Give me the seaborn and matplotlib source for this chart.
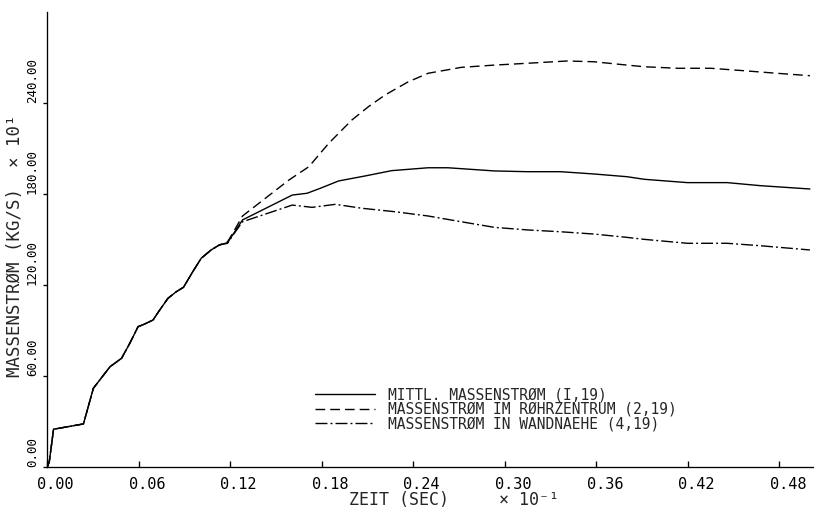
import matplotlib
matplotlib.use("Agg")
import matplotlib.pyplot as plt
import seaborn as sns
from matplotlib.transforms import ScaledTranslation

sns.set_style("ticks")
plt.rcParams["font.family"] = ["DejaVu Sans Mono", "DejaVu Sans"]

# ---------------- data (time in SEC x 10^-1, mass flow in KG/S x 10^1) -------------
t_mittel = [0.0, 0.0013, 0.0041, 0.0237, 0.0302, 0.0411, 0.0487, 0.0541, 0.0595, 0.0639,
            0.0693, 0.0737, 0.0791, 0.0846, 0.0893, 0.0954, 0.1009, 0.1074, 0.1128, 0.1182,
            0.1215, 0.128, 0.1606, 0.1704, 0.1791, 0.191, 0.2084, 0.2258, 0.2497, 0.2627,
            0.2932, 0.3149, 0.3366, 0.3584, 0.3801, 0.3914, 0.4197, 0.4458, 0.4675, 0.5]
m_mittel = [0.0, 3.5, 24.9, 28.4, 51.9, 66.1, 71.7, 81.6, 92.5, 94.3,
            96.9, 103.5, 111.2, 115.6, 118.5, 128.8, 137.6, 143.1, 146.4, 147.9,
            153.0, 162.9, 179.3, 180.5, 183.8, 188.6, 191.9, 195.4, 197.3, 197.3,
            195.2, 194.7, 194.7, 193.2, 191.4, 189.7, 187.5, 187.5, 185.5, 183.3]

t_zentrum = [0.0, 0.0013, 0.0041, 0.0237, 0.0302, 0.0411, 0.0487, 0.0541, 0.0595, 0.0639,
             0.0693, 0.0737, 0.0791, 0.0846, 0.0893, 0.0954, 0.1009, 0.1074, 0.1128, 0.1182,
             0.1215, 0.128, 0.1584, 0.1715, 0.1845, 0.1997, 0.2106, 0.2215, 0.2367, 0.2497,
             0.2714, 0.2932, 0.3149, 0.341, 0.3584, 0.3801, 0.3914, 0.4132, 0.4349, 0.4566,
             0.4783, 0.5]
m_zentrum = [0.0, 3.5, 24.9, 28.4, 51.9, 66.1, 71.7, 81.6, 92.5, 94.3,
             96.9, 103.5, 111.2, 115.6, 118.5, 128.8, 137.6, 143.1, 146.4, 148.5,
             154.0, 165.5, 189.2, 198.0, 213.4, 228.8, 237.6, 245.3, 254.0, 259.6,
             263.5, 265.0, 266.2, 267.7, 267.2, 265.0, 263.9, 262.9, 262.9, 261.3,
             259.6, 258.0]

t_wand = [0.0, 0.0013, 0.0041, 0.0237, 0.0302, 0.0411, 0.0487, 0.0541, 0.0595, 0.0639,
          0.0693, 0.0737, 0.0791, 0.0846, 0.0893, 0.0954, 0.1009, 0.1074, 0.1128, 0.1182,
          0.1215, 0.128, 0.1606, 0.1736, 0.1889, 0.2062, 0.228, 0.2497, 0.2714, 0.2932,
          0.3149, 0.3366, 0.3584, 0.3801, 0.3914, 0.4197, 0.4458, 0.4675, 0.5]
m_wand = [0.0, 3.5, 24.9, 28.4, 51.9, 66.1, 71.7, 81.6, 92.5, 94.3,
          96.9, 103.5, 111.2, 115.6, 118.5, 128.8, 137.6, 143.1, 146.4, 147.5,
          152.5, 161.7, 172.7, 171.2, 173.2, 170.6, 168.3, 165.5, 161.7, 158.0,
          156.3, 155.1, 153.6, 151.4, 150.1, 147.5, 147.5, 145.9, 143.1]

series_labels = ["MITTL. MASSENSTRØM (I,19)",
                 "MASSENSTRØM IM RØHRZENTRUM (2,19)",
                 "MASSENSTRØM IN WANDNAEHE (4,19)"]

x_ticks = [0.0, 0.06, 0.12, 0.18, 0.24, 0.30, 0.36, 0.42, 0.48]
x_tick_labels = ["0.00", "0.06", "0.12", "0.18", "0.24", "0.30", "0.36", "0.42", "0.48"]
y_ticks = [0, 60, 120, 180, 240]
y_tick_labels = ["0.00", "60.00", "120.00", "180.00", "240.00"]

x_title = "ZEIT (SEC)     × 10⁻¹"
y_title = "MASSENSTRØM (KG/S)  × 10¹"

# ---------------- figure ----------------
W, H = 814, 511
fig = plt.figure(figsize=(W / 100, H / 100), dpi=100)
ax = fig.add_axes([47.3 / W, 1 - 467 / H, 1 - 47.3 / W, (467 - 12) / H])

LW = 1.0
styles = ["-", (0, (7, 3.6)), (0, (8.6, 2.2, 1.4, 2.2))]
for (tx, my), lab, ls in zip([(t_mittel, m_mittel), (t_zentrum, m_zentrum), (t_wand, m_wand)],
                             series_labels, styles):
    sns.lineplot(x=tx, y=my, ax=ax, color="black", lw=LW, linestyle=ls,
                 label=lab, estimator=None, sort=False)

ax.set_xlim(0, 0.5027)
ax.set_ylim(0, 300)
sns.despine(ax=ax)
for s in ("left", "bottom"):
    ax.spines[s].set_linewidth(0.95)
    ax.spines[s].set_color("black")

ax.set_xticks(x_ticks)
ax.set_xticklabels(x_tick_labels, fontsize=11)
ax.set_yticks(y_ticks)
ax.set_yticklabels(y_tick_labels, fontsize=9, rotation=90, va="bottom")
ax.tick_params(axis="x", direction="in", length=4, width=0.95, pad=7, colors="black")
ax.tick_params(axis="y", direction="out", length=3, width=0.95, pad=3, colors="black")
shift = ScaledTranslation(8.4 / 100, 0, fig.dpi_scale_trans)
for lbl in ax.get_xticklabels():
    lbl.set_transform(lbl.get_transform() + shift)
ax.set_xlabel("")
ax.set_ylabel("")

fig.text(15 / W, 1 - 377 / H, y_title, rotation=90, ha="center", va="bottom", fontsize=12.5)
fig.text(349 / W, 1 - 500 / H, x_title, ha="left", va="center", fontsize=12)

ax.legend(loc="upper left", bbox_to_anchor=(315 / W, 1 - 387 / H),
          bbox_transform=fig.transFigure, frameon=False, borderpad=0, borderaxespad=0,
          handlelength=4.1, handletextpad=0.9, labelspacing=-0.02,
          prop={"family": ["DejaVu Sans Mono", "DejaVu Sans"], "size": 10.5})

fig.savefig("out.png", dpi=100, facecolor="white")
